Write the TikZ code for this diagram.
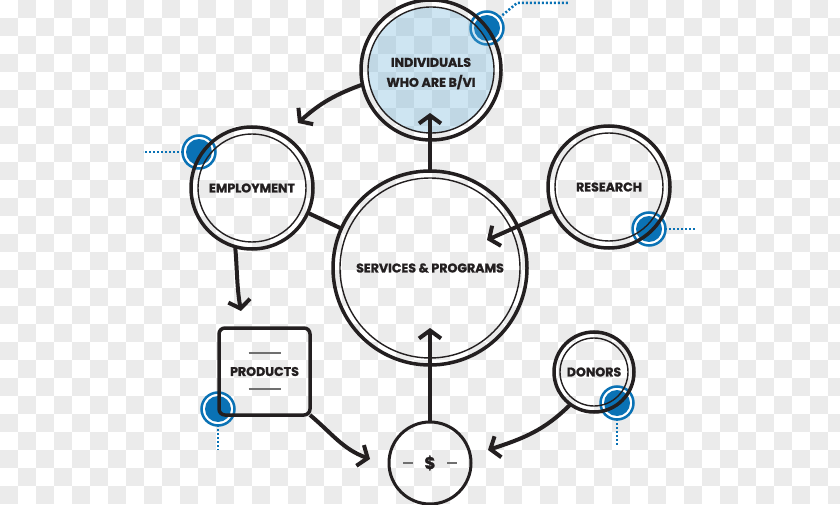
\documentclass[tikz,border=0pt]{standalone}
\usepackage{fontspec}
\setmainfont{Poppins}[BoldFont={Poppins Bold}, BoldFeatures={FakeBold=1.3}]
\usetikzlibrary{arrows.meta}
\definecolor{ink}{HTML}{231F20}
\definecolor{bblue}{HTML}{0A72B5}
\definecolor{checkgrey}{HTML}{EBEBEB}
\definecolor{tint}{RGB}{95,172,212}
\definecolor{rulegrey}{HTML}{707070}
\begin{document}
\begin{tikzpicture}[x=1pt,y=1pt,
  lab/.style={font=\fontsize{12.6}{20}\selectfont\bfseries, text=ink, align=center},
  ring/.style={circle, draw=ink, line width=3.5pt, inner sep=0pt, outer sep=0pt, lab},
  arr/.style={draw=ink, line width=4pt, -{Straight Barb[length=8pt,width=22pt]}},
  link/.style={draw=ink, line width=4pt},
  dotline/.style={draw=bblue, line width=2.5pt, dash pattern=on 2pt off 2pt},
  badgering/.style={circle, draw=bblue, fill=white, line width=2.5pt, minimum size=33pt, inner sep=0pt},
  badgedot/.style={circle, fill=bblue, minimum size=26pt, inner sep=0pt},
  thinring/.style={draw=ink, line width=1.4pt},
  rulemark/.style={draw=rulegrey, line width=1.4pt},
]
\useasboundingbox (0,0) rectangle (840,504);
% checkerboard background
\begin{scope}
\clip (0,0) rectangle (840,504);
\fill[white] (0,0) rectangle (840,504);
\foreach \j in {0,...,27}{
  \foreach \i in {0,...,23}{
    \pgfmathtruncatemacro\c{2*\i+1-mod(\j,2)}
    \fill[checkgrey] (\c*18, 504-\j*18) rectangle ++(18,-18);
  }
}
\end{scope}
% badge positions and dotted leaders
\coordinate (b1c) at (487,476);
\coordinate (b2c) at (199,352);
\coordinate (b3c) at (649,275);
\coordinate (b4c) at (218,95);
\coordinate (b5c) at (617,101);
\coordinate (d1a) at (517,501);
\coordinate (d1b) at (568,501);
\coordinate (d2) at (143,352);
\coordinate (d3) at (695,275);
\coordinate (d4) at (218,54);
\coordinate (d5) at (617,59);
\draw[dotline] (b1c) -- (d1a) -- (d1b);
\draw[dotline] (b2c) -- (d2);
\draw[dotline] (b3c) -- (d3);
\draw[dotline] (b4c) -- (d4);
\draw[dotline] (b5c) -- (d5);
\foreach \n in {b1,b2,b3,b4,b5}{
  \node[badgering] (\n) at (\n c) {};
  \node[badgedot] (\n d) at (\n c) {};
}
% tinted fill of the top circle
\coordinate (indc) at (431,434);
\fill[tint, fill opacity=0.3] (indc) circle[radius=63];
% main nodes
\node[ring, minimum size=194pt] (svc) at (430,236) {SERVICES \& PROGRAMS};
\node[ring, minimum size=140pt] (ind) at (indc) {};
\node[lab] (indt) at (431,430.5) {INDIVIDUALS\\WHO ARE B/VI};
\node[ring, minimum size=122pt] (emp) at (252,316) {EMPLOYMENT};
\node[ring, minimum size=122pt] (res) at (609,317) {RESEARCH};
\node[ring, minimum size=80pt] (don) at (594,132) {DONORS};
\node[ring, minimum size=82pt, line width=3pt, font=\fontsize{17}{18}\selectfont\bfseries] (dol) at (430,41) {\$};
\node[draw=ink, line width=3.5pt, rounded corners=6pt, minimum width=91pt, minimum height=87pt, inner sep=0pt, outer sep=0pt, lab] (prod) at (264.5,132.5) {PRODUCTS};
% inner thin rings
\draw[thinring] (svc.center) circle[radius=90];
\draw[thinring] (ind.center) circle[radius=63];
\draw[thinring] (emp.center) circle[radius=54];
\draw[thinring] (res.center) circle[radius=54];
\draw[thinring] (don.center) circle[radius=34];
% small grey marks
\draw[rulemark] ([shift={(-16,18.5)}]prod.center) -- ++(32,0);
\draw[rulemark] ([shift={(-16,-17.5)}]prod.center) -- ++(32,0);
\draw[rulemark] ([shift={(-27,0)}]dol.center) -- ++(10,0);
\draw[rulemark] ([shift={(17,0)}]dol.center) -- ++(10,0);
% connectors
\coordinate (t1) at (298,381);
\draw[arr] (ind.192) to[out=200,in=42] (t1);
\coordinate (t2) at (430,391);
\draw[arr] (svc.north) -- (t2);
\draw[link] (emp.-24) -- (svc.156);
\coordinate (t4) at (241,193);
\draw[arr] (emp.254) to[out=-85,in=100] (t4);
\coordinate (t5) at (487,264);
\draw[arr] (res.203) -- (t5);
\coordinate (t6) at (370,45);
\draw[arr] (prod.south east) to[out=-40,in=160] (t6);
\coordinate (t7) at (430,176);
\draw[arr] (dol.north) -- (t7);
\coordinate (t8) at (488,54);
\draw[arr] (don.234) to[out=225,in=18] (t8);
\end{tikzpicture}
\end{document}
